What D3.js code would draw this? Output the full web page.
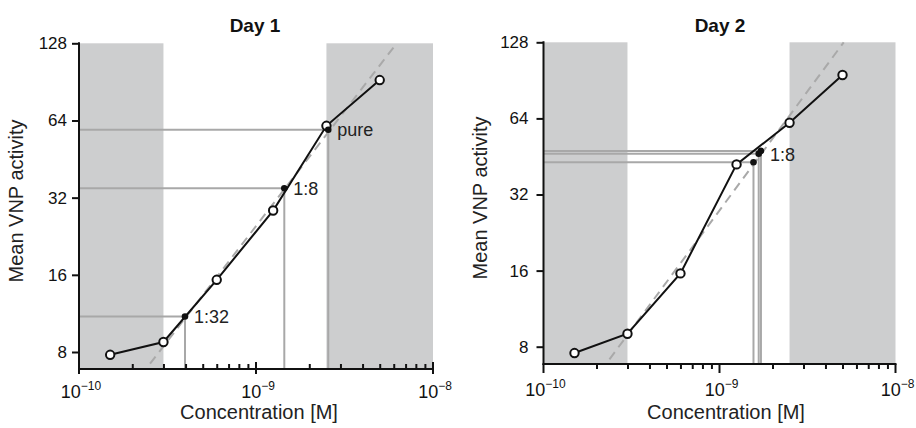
<!DOCTYPE html>
<html>
<head>
<meta charset="utf-8">
<script src="https://cdn.jsdelivr.net/npm/d3@7"></script>
<style>
  body { margin: 0; background: #fff; }
  svg { font-family: 'Liberation Sans', Arial, sans-serif; }
</style>
</head>
<body>
<svg id="chart" width="916" height="428"></svg>
<script>
// concentrations of the standard dilution series [M]
const concentrations = [1.5e-10, 3e-10, 6e-10, 1.25e-9, 2.5e-9, 5e-9];
const day1Activity = [7.8, 8.75, 15.3, 28.5, 61, 92];
const day2Activity = [7.55, 9.0, 15.6, 42.1, 61.5, 95];

// samples
const day1SampleLabels = ['1:32', '1:8', 'pure'];
const day1SampleConc = [3.97e-10, 1.445e-9, 2.56e-9];
const day1SampleActivity = [11.0, 34.8, 58.9];
const day2SampleLabels = ['', '', '1:8'];
const day2SampleConc = [1.56e-9, 1.67e-9, 1.72e-9];
const day2SampleActivity = [42.9, 46.4, 47.6];

// dashed fit line endpoints [conc, activity]
const day1Fit = [[2.52e-10, 7.2], [6.24e-9, 128]];
const day2Fit = [[2.37e-10, 7.13], [5.08e-9, 128]];

// shaded (out of range) concentration windows
const shadedRanges = [[1e-10, 3e-10], [2.5e-9, 1e-8]];

const yTicks = [8, 16, 32, 64, 128];
const xMajorTicks = [1e-10, 1e-9, 1e-8];
const xMajorLabels = ['\u221210', '\u22129', '\u22128'];

class CurvePanel {
  constructor(_config, _data) {
    this.config = _config;
    this.data = _data;
    this.initVis();
  }

  initVis() {
    let vis = this;
    const c = vis.config;
    vis.g = d3.select('#chart').append('g');

    vis.x = d3.scaleLog().domain([1e-10, 1e-8]).range([c.x0, c.x1]);
    // log2 scale, anchored on the 8 and 128 ticks
    vis.y = d3.scaleLog().base(2).domain([8, 128]).range([c.y8, c.y128]);

    this.renderVis();
  }

  renderVis() {
    let vis = this;
    const c = vis.config;
    const x = vis.x, y = vis.y;
    const top = y(128);

    // gray bands
    vis.g.selectAll('.band')
      .data(shadedRanges)
      .join('rect')
      .attr('class', 'band')
      .attr('x', d => x(d[0]))
      .attr('y', top)
      .attr('width', d => x(d[1]) - x(d[0]))
      .attr('height', c.axisY - 1 - top)
      .attr('fill', '#cdcecf');

    const samples = vis.data.sampleConc.map((d, i) => ({
      conc: d, act: vis.data.sampleActivity[i], label: vis.data.sampleLabels[i]
    }));

    // drop lines from samples to the axes
    vis.g.selectAll('.hline')
      .data(samples)
      .join('line')
      .attr('x1', c.x0).attr('x2', d => x(d.conc))
      .attr('y1', d => y(d.act)).attr('y2', d => y(d.act))
      .attr('stroke', '#a8a8a8').attr('stroke-width', 2);
    vis.g.selectAll('.vline')
      .data(samples)
      .join('line')
      .attr('x1', d => x(d.conc)).attr('x2', d => x(d.conc))
      .attr('y1', d => y(d.act)).attr('y2', c.axisY)
      .attr('stroke', '#a8a8a8').attr('stroke-width', 2);

    // fit line
    vis.g.append('path')
      .datum(vis.data.fit)
      .attr('d', d3.line().x(d => x(d[0])).y(d => y(d[1])))
      .attr('fill', 'none')
      .attr('stroke', '#a9a9a9')
      .attr('stroke-width', 2)
      .attr('stroke-dasharray', '9,6');

    // standard curve
    const pts = concentrations.map((d, i) => [d, vis.data.activity[i]]);
    vis.g.append('path')
      .datum(pts)
      .attr('d', d3.line().x(d => x(d[0])).y(d => y(d[1])))
      .attr('fill', 'none')
      .attr('stroke', '#111')
      .attr('stroke-width', 2);
    vis.g.selectAll('.pt')
      .data(pts)
      .join('circle')
      .attr('cx', d => x(d[0])).attr('cy', d => y(d[1]))
      .attr('r', 4.2)
      .attr('fill', '#fff')
      .attr('stroke', '#111')
      .attr('stroke-width', 2);

    // samples
    vis.g.selectAll('.sample')
      .data(samples)
      .join('circle')
      .attr('cx', d => x(d.conc)).attr('cy', d => y(d.act))
      .attr('r', 3.3)
      .attr('fill', '#111');
    vis.g.selectAll('.sample-label')
      .data(samples.filter(d => d.label))
      .join('text')
      .attr('x', d => x(d.conc) + 9)
      .attr('y', d => y(d.act) + c.labelDy)
      .attr('dy', '0.35em')
      .attr('font-size', 18)
      .attr('fill', '#222')
      .text(d => d.label);

    // y axis
    const yAxis = vis.g.append('g')
      .attr('transform', `translate(${c.x0},0)`)
      .call(d3.axisLeft(y).tickValues(yTicks).tickFormat(d3.format('d'))
        .tickSize(7).tickPadding(c.yPad));
    yAxis.select('.domain').remove();
    yAxis.selectAll('line').attr('stroke', '#111').attr('stroke-width', 2);
    yAxis.selectAll('text').attr('font-size', 17).attr('fill', '#111')
      .attr('font-family', null);
    vis.g.append('line')
      .attr('x1', c.x0).attr('x2', c.x0)
      .attr('y1', top - 1).attr('y2', c.axisY + 1)
      .attr('stroke', '#111').attr('stroke-width', 2);

    // x axis with minor ticks
    const minor = [];
    [1e-10, 1e-9].forEach(d => { for (let k = 2; k <= 9; k++) minor.push(d * k); });
    const xMinor = vis.g.append('g')
      .attr('transform', `translate(0,${c.axisY})`)
      .call(d3.axisBottom(x).tickValues(minor).tickFormat('').tickSize(c.minorTick));
    xMinor.select('.domain').remove();
    xMinor.selectAll('line').attr('stroke', '#111').attr('stroke-width', 2);

    vis.g.selectAll('.major')
      .data(xMajorTicks)
      .join('line')
      .attr('x1', d => x(d)).attr('x2', d => x(d))
      .attr('y1', c.axisY + c.majorTick[0]).attr('y2', c.axisY + c.majorTick[1])
      .attr('stroke', '#111').attr('stroke-width', 2);
    vis.g.append('line')
      .attr('x1', c.x0 - 1).attr('x2', c.x1 + 1)
      .attr('y1', c.axisY).attr('y2', c.axisY)
      .attr('stroke', '#111').attr('stroke-width', 2);

    const lbl = vis.g.selectAll('.xlabel')
      .data(xMajorTicks)
      .join('text')
      .attr('x', d => x(d) + 2)
      .attr('y', c.xLabelY)
      .attr('text-anchor', 'middle')
      .attr('font-size', 18)
      .attr('fill', '#111');
    lbl.append('tspan').text('10');
    lbl.append('tspan')
      .attr('dy', -8).attr('font-size', 12)
      .text((d, i) => xMajorLabels[i]);

    // titles
    vis.g.append('text')
      .attr('x', c.titleX).attr('y', 32)
      .attr('text-anchor', 'middle')
      .attr('font-size', 19).attr('font-weight', 'bold')
      .attr('fill', '#111')
      .text(c.title);
    vis.g.append('text')
      .attr('x', c.xTitleX).attr('y', 419)
      .attr('text-anchor', 'middle')
      .attr('font-size', 20).attr('fill', '#222')
      .text('Concentration [M]');
    vis.g.append('text')
      .attr('transform', `translate(${c.yTitleX},${c.yTitleY}) rotate(-90)`)
      .attr('text-anchor', 'middle')
      .attr('font-size', 20).attr('fill', '#222')
      .text('Mean VNP activity');
  }
}

new CurvePanel({
  title: 'Day 1', titleX: 255,
  x0: 79, x1: 433, y8: 352, y128: 43.3, axisY: 369,
  yPad: 5, minorTick: -5, majorTick: [-7, 5],
  xLabelY: 398, xTitleX: 259, yTitleX: 23, yTitleY: 201, labelDy: 0
}, {
  activity: day1Activity, fit: day1Fit,
  sampleConc: day1SampleConc, sampleActivity: day1SampleActivity, sampleLabels: day1SampleLabels
});

new CurvePanel({
  title: 'Day 2', titleX: 720,
  x0: 543.5, x1: 895.5, y8: 346.7, y128: 42.3, axisY: 364,
  yPad: 8, minorTick: 5, majorTick: [0, 9],
  xLabelY: 396, xTitleX: 726, yTitleX: 487, yTitleY: 198, labelDy: 4
}, {
  activity: day2Activity, fit: day2Fit,
  sampleConc: day2SampleConc, sampleActivity: day2SampleActivity, sampleLabels: day2SampleLabels
});
</script>
</body>
</html>
